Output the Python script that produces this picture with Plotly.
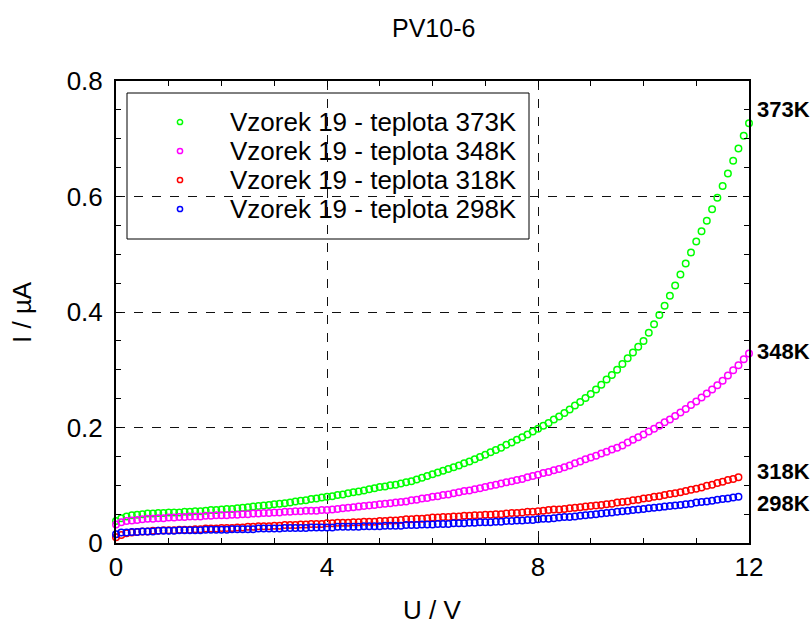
import plotly.graph_objects as go

title_text = "PV10-6"
x_title = "U / V"
y_title = "I / µA"

series_names = [
    "Vzorek 19 - teplota 373K",
    "Vzorek 19 - teplota 348K",
    "Vzorek 19 - teplota 318K",
    "Vzorek 19 - teplota 298K",
]
end_labels = ["373K", "348K", "318K", "298K"]
end_label_y = [0.75, 0.331, 0.123, 0.069]
colors = ["#00ff00", "#ff00ff", "#ff0000", "#0000ff"]

voltage_V = [
    0.0, 0.1, 0.2, 0.3, 0.4, 0.5, 0.6, 0.7, 0.8, 0.9,
    1.0, 1.1, 1.2, 1.3, 1.4, 1.5, 1.6, 1.7, 1.8, 1.9,
    2.0, 2.1, 2.2, 2.3, 2.4, 2.5, 2.6, 2.7, 2.8, 2.9,
    3.0, 3.1, 3.2, 3.3, 3.4, 3.5, 3.6, 3.7, 3.8, 3.9,
    4.0, 4.1, 4.2, 4.3, 4.4, 4.5, 4.6, 4.7, 4.8, 4.9,
    5.0, 5.1, 5.2, 5.3, 5.4, 5.5, 5.6, 5.7, 5.8, 5.9,
    6.0, 6.1, 6.2, 6.3, 6.4, 6.5, 6.6, 6.7, 6.8, 6.9,
    7.0, 7.1, 7.2, 7.3, 7.4, 7.5, 7.6, 7.7, 7.8, 7.9,
    8.0, 8.1, 8.2, 8.3, 8.4, 8.5, 8.6, 8.7, 8.8, 8.9,
    9.0, 9.1, 9.2, 9.3, 9.4, 9.5, 9.6, 9.7, 9.8, 9.9,
    10.0, 10.1, 10.2, 10.3, 10.4, 10.5, 10.6, 10.7, 10.8, 10.9,
    11.0, 11.1, 11.2, 11.3, 11.4, 11.5, 11.6, 11.7, 11.8, 11.9,
    12.0,
]

current_373K = [
    0.038, 0.043, 0.046, 0.048, 0.049, 0.050, 0.051, 0.051, 0.052, 0.052,
    0.053, 0.053, 0.053, 0.054, 0.054, 0.055, 0.055, 0.056, 0.057, 0.057,
    0.058, 0.059, 0.059, 0.060, 0.061, 0.062, 0.063, 0.064, 0.065, 0.066,
    0.067, 0.068, 0.069, 0.070, 0.072, 0.073, 0.074, 0.076, 0.077, 0.079,
    0.080, 0.081, 0.083, 0.084, 0.086, 0.088, 0.089, 0.091, 0.093, 0.095,
    0.097, 0.098, 0.100, 0.101, 0.103, 0.105, 0.107, 0.110, 0.113, 0.116,
    0.119, 0.122, 0.125, 0.128, 0.131, 0.134, 0.138, 0.141, 0.145, 0.149,
    0.153, 0.157, 0.161, 0.165, 0.170, 0.174, 0.179, 0.183, 0.188, 0.193,
    0.198, 0.203, 0.208, 0.214, 0.219, 0.225, 0.231, 0.238, 0.244, 0.251,
    0.258, 0.266, 0.274, 0.283, 0.291, 0.300, 0.310, 0.320, 0.330, 0.340,
    0.350, 0.364, 0.379, 0.395, 0.411, 0.428, 0.446, 0.465, 0.484, 0.503,
    0.522, 0.540, 0.558, 0.578, 0.598, 0.618, 0.640, 0.662, 0.683, 0.705,
    0.727,
]

current_348K = [
    0.032, 0.036, 0.038, 0.039, 0.040, 0.041, 0.042, 0.042, 0.043, 0.043,
    0.044, 0.044, 0.045, 0.045, 0.046, 0.046, 0.046, 0.047, 0.047, 0.048,
    0.048, 0.048, 0.049, 0.049, 0.050, 0.050, 0.051, 0.051, 0.052, 0.052,
    0.053, 0.053, 0.054, 0.054, 0.055, 0.055, 0.056, 0.056, 0.056, 0.057,
    0.057, 0.058, 0.059, 0.060, 0.061, 0.062, 0.063, 0.064, 0.065, 0.066,
    0.067, 0.068, 0.069, 0.070, 0.071, 0.072, 0.074, 0.075, 0.077, 0.078,
    0.080, 0.081, 0.083, 0.084, 0.086, 0.088, 0.090, 0.091, 0.093, 0.095,
    0.097, 0.099, 0.101, 0.103, 0.105, 0.107, 0.109, 0.111, 0.114, 0.116,
    0.118, 0.121, 0.123, 0.126, 0.128, 0.131, 0.134, 0.138, 0.141, 0.145,
    0.148, 0.151, 0.155, 0.158, 0.162, 0.165, 0.169, 0.174, 0.179, 0.183,
    0.188, 0.193, 0.198, 0.203, 0.209, 0.214, 0.220, 0.226, 0.232, 0.239,
    0.245, 0.252, 0.259, 0.266, 0.273, 0.281, 0.290, 0.299, 0.308, 0.318,
    0.328,
]

current_318K = [
    0.010, 0.014, 0.017, 0.018, 0.019, 0.020, 0.020, 0.021, 0.021, 0.022,
    0.022, 0.022, 0.023, 0.023, 0.023, 0.024, 0.024, 0.025, 0.025, 0.025,
    0.026, 0.026, 0.026, 0.027, 0.027, 0.028, 0.028, 0.029, 0.029, 0.029,
    0.030, 0.030, 0.031, 0.031, 0.031, 0.032, 0.032, 0.033, 0.033, 0.033,
    0.034, 0.034, 0.035, 0.035, 0.035, 0.036, 0.036, 0.037, 0.037, 0.037,
    0.038, 0.038, 0.039, 0.039, 0.040, 0.041, 0.041, 0.042, 0.042, 0.043,
    0.044, 0.044, 0.045, 0.045, 0.046, 0.046, 0.047, 0.047, 0.048, 0.048,
    0.049, 0.049, 0.050, 0.050, 0.051, 0.052, 0.052, 0.053, 0.054, 0.054,
    0.055, 0.056, 0.057, 0.058, 0.058, 0.059, 0.060, 0.061, 0.062, 0.063,
    0.064, 0.065, 0.066, 0.067, 0.068, 0.070, 0.071, 0.072, 0.074, 0.075,
    0.077, 0.078, 0.080, 0.081, 0.083, 0.085, 0.086, 0.088, 0.090, 0.092,
    0.094, 0.096, 0.099, 0.101, 0.104, 0.106, 0.109, 0.111, 0.114,
]

current_298K = [
    0.015, 0.018, 0.018, 0.019, 0.019, 0.020, 0.020, 0.020, 0.021, 0.021,
    0.021, 0.021, 0.022, 0.022, 0.022, 0.022, 0.022, 0.023, 0.023, 0.023,
    0.023, 0.023, 0.024, 0.024, 0.024, 0.024, 0.024, 0.025, 0.025, 0.025,
    0.025, 0.025, 0.026, 0.026, 0.026, 0.026, 0.026, 0.027, 0.027, 0.027,
    0.027, 0.027, 0.028, 0.028, 0.028, 0.028, 0.028, 0.029, 0.029, 0.029,
    0.029, 0.030, 0.030, 0.030, 0.030, 0.031, 0.031, 0.031, 0.032, 0.032,
    0.032, 0.033, 0.033, 0.033, 0.034, 0.034, 0.034, 0.035, 0.035, 0.036,
    0.036, 0.036, 0.037, 0.037, 0.038, 0.038, 0.039, 0.039, 0.040, 0.040,
    0.041, 0.042, 0.042, 0.043, 0.044, 0.045, 0.045, 0.046, 0.047, 0.048,
    0.049, 0.050, 0.051, 0.052, 0.053, 0.054, 0.055, 0.056, 0.057, 0.058,
    0.059, 0.060, 0.061, 0.062, 0.063, 0.064, 0.065, 0.066, 0.067, 0.068,
    0.070, 0.071, 0.072, 0.073, 0.075, 0.076, 0.077, 0.079, 0.080,
]

x_tick_vals = [0, 4, 8, 12]
x_tick_text = ["0", "4", "8", "12"]
y_tick_vals = [0, 0.2, 0.4, 0.6, 0.8]
y_tick_text = ["0", "0.2", "0.4", "0.6", "0.8"]

all_currents = [current_373K, current_348K, current_318K, current_298K]

FONT = "Liberation Sans, Arial, sans-serif"
W, H = 812, 629
L, R, T, B = 116, 63, 81, 86
PW, PH = W - L - R, H - T - B


def px_x(p):
    return (p - L) / PW


def px_y(p):
    return (H - B - p) / PH


fig = go.Figure()
for name, cur, col in zip(series_names, all_currents, colors):
    fig.add_trace(go.Scatter(
        x=voltage_V[:len(cur)], y=cur, mode="markers", name=name,
        marker=dict(symbol="circle-open", size=6.5, color=col, line=dict(width=1.5, color=col)),
        cliponaxis=False, showlegend=False,
    ))

# legend box (white, covers the grid)
fig.add_shape(type="rect", xref="paper", yref="paper",
              x0=px_x(127), x1=px_x(529), y0=px_y(239), y1=px_y(93),
              line=dict(color="black", width=1), fillcolor="white", layer="between")

legend_rows_px = [122, 151, 180, 209]
for name, col, ry in zip(series_names, colors, legend_rows_px):
    fig.add_shape(type="circle", xref="paper", yref="paper",
                  xsizemode="pixel", ysizemode="pixel",
                  xanchor=px_x(180), yanchor=px_y(ry),
                  x0=-2.6, x1=2.6, y0=-2.6, y1=2.6,
                  line=dict(color=col, width=1.5), fillcolor="rgba(0,0,0,0)", layer="above")
    fig.add_annotation(x=px_x(228), y=px_y(ry), xref="paper", yref="paper",
                       text=name, showarrow=False, xanchor="left", yanchor="middle",
                       font=dict(size=26, color="black", family=FONT))

for lab, yv in zip(end_labels, end_label_y):
    fig.add_annotation(x=px_x(755), xref="paper", y=yv, yref="y", text="<b>" + lab + "</b>",
                       showarrow=False, xanchor="left", yanchor="middle",
                       font=dict(size=22, color="black", family=FONT))

# title and axis titles
fig.add_annotation(x=px_x(433), y=px_y(28), xref="paper", yref="paper", text=title_text,
                   showarrow=False, xanchor="center", yanchor="middle",
                   font=dict(size=25, color="black", family=FONT))
fig.add_annotation(x=px_x(432), y=px_y(610), xref="paper", yref="paper", text=x_title,
                   showarrow=False, xanchor="center", yanchor="middle",
                   font=dict(size=26, color="black", family=FONT))
fig.add_annotation(x=px_x(22), y=px_y(312), xref="paper", yref="paper", text=y_title,
                   showarrow=False, xanchor="center", yanchor="middle", textangle=-90,
                   font=dict(size=26, color="black", family=FONT))

axis_common = dict(
    showline=True, linecolor="black", linewidth=2, mirror="allticks",
    ticks="inside", ticklen=6, tickwidth=1, tickcolor="black",
    showgrid=True, gridcolor="#111111", griddash="dash", gridwidth=1,
    zeroline=False, automargin=False,
    tickfont=dict(size=26, color="black", family=FONT),
)

fig.update_layout(
    width=W, height=H,
    paper_bgcolor="white", plot_bgcolor="white",
    margin=dict(l=L, r=R, t=T, b=B),
    font=dict(family=FONT, color="black"),
    showlegend=False,
    xaxis=dict(range=[0, 12], tickvals=x_tick_vals, ticktext=x_tick_text,
               minor=dict(dtick=1, ticks="inside", ticklen=5, tickcolor="black", showgrid=False),
               ticklabelstandoff=0,
               **axis_common),
    yaxis=dict(range=[0, 0.8], tickvals=y_tick_vals, ticktext=y_tick_text,
               minor=dict(dtick=0.05, ticks="inside", ticklen=5, tickcolor="black", showgrid=False),
               ticklabelstandoff=6,
               **axis_common),
)

fig.write_html(
    "out.html",
    config={"displayModeBar": False},
    post_script="document.body.style.margin='0';document.body.style.padding='0';document.documentElement.style.overflow='hidden';",
)
